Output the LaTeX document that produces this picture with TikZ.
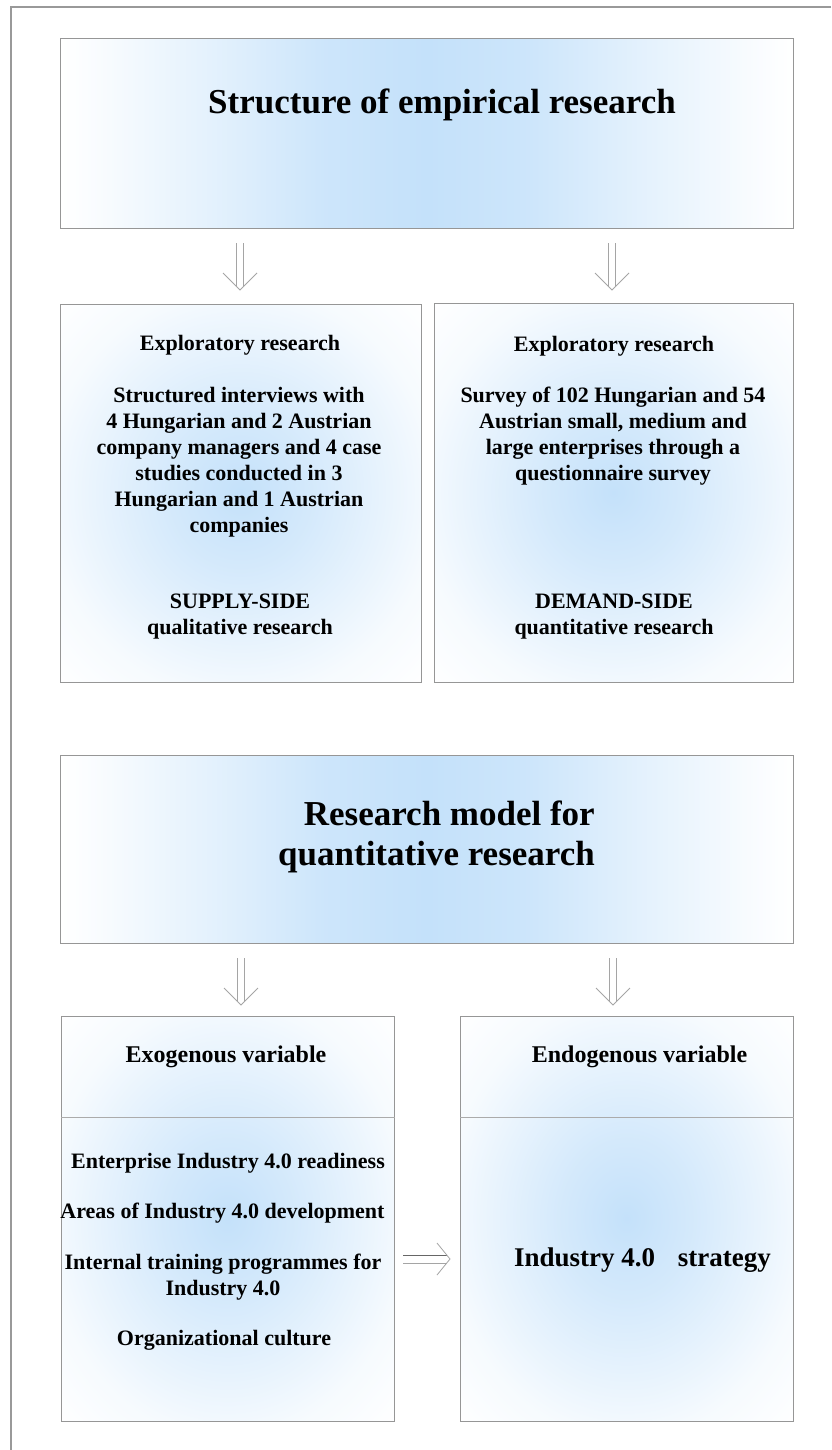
\documentclass[tikz,border=0pt]{standalone}
\usepackage{fontspec}
\setmainfont{Liberation Serif}

\definecolor{glow}{RGB}{196,225,250}
\definecolor{edge}{RGB}{150,150,150}
\definecolor{arrowgray}{RGB}{165,165,165}

% blue band down the middle of the wide title panels
% (a shaded path covers the 25bp--75bp part of the shading)
\pgfdeclarehorizontalshading{bandglow}{100bp}{%
  color(0bp)=(white); color(25bp)=(white); color(28bp)=(glow!12!white);
  color(35bp)=(glow!45!white); color(43bp)=(glow!85!white); color(50bp)=(glow);
  color(57bp)=(glow!85!white); color(65bp)=(glow!45!white);
  color(72bp)=(glow!12!white); color(75bp)=(white); color(100bp)=(white)}
% soft blue spot in the middle of the smaller panels
\pgfdeclareradialshading{spotglow}{\pgfpoint{0bp}{0bp}}{%
  color(0bp)=(glow); color(10bp)=(glow!72!white); color(19bp)=(glow!42!white);
  color(27bp)=(glow!15!white); color(36bp)=(white); color(50bp)=(white)}

% double-lined open arrows
\newcommand\downdbl[2]{%
  \draw[flow] ([xshift=-3.5pt]#1) -- ([xshift=-3.5pt,yshift=4pt]#2);
  \draw[flow] ([xshift=3.5pt]#1) -- ([xshift=3.5pt,yshift=4pt]#2);
  \draw[flow] ([xshift=-17pt,yshift=17pt]#2) -- (#2) -- ([xshift=17pt,yshift=17pt]#2);}
\newcommand\rightdbl[2]{%
  \draw[flow,draw=black!60] ([yshift=4pt]#1) -- ([yshift=4pt,xshift=-3pt]#2);
  \draw[flow] ([yshift=-4pt]#1) -- ([yshift=-4pt,xshift=-3pt]#2);
  \draw[flow] ([xshift=-13pt,yshift=16pt]#2) -- (#2) -- ([xshift=-13pt,yshift=-16pt]#2);}

\begin{document}
\begin{tikzpicture}[x=1pt,y=-1pt,
  panel/.style={draw=edge, line width=1pt, inner sep=0pt},
  wide/.style={panel, shading=bandglow, minimum width=733pt, minimum height=189pt},
  tall/.style={panel, shading=spotglow},
  divider/.style={draw=edge!80, line width=0.8pt},
  flow/.style={draw=arrowgray, line width=0.8pt},
  frameline/.style={draw=black!40, line width=1.3pt},
  bigtitle/.style={font=\bfseries\fontsize{35pt}{40pt}\selectfont, inner sep=0pt},
  body/.style={font=\bfseries\fontsize{22pt}{26pt}\selectfont, align=center, inner sep=0pt},
  head/.style={font=\bfseries\fontsize{24pt}{28pt}\selectfont, inner sep=0pt}]

\useasboundingbox (0,0) rectangle (831,1450);
\fill[white] (0,0) rectangle (831,1450);

% page frame (top and left edges)
\coordinate (frameTL) at (11,7);
\coordinate (frameTR) at (831,7);
\coordinate (frameBL) at (11,1450);
\draw[frameline] (frameTR) -- (frameTL) -- (frameBL);

% ---- structure of the empirical research ----
\node[wide] (structure) at (426.5,133.5) {};
\node[bigtitle] (structureT) at (442,105) {Structure of empirical research};

\node[tall, minimum width=361pt, minimum height=378pt] (supply) at (240.5,493) {};
\node[body] (supplyH) at (240,345) {Exploratory research};
\node[body] (supplyB) at (239,462) {Structured interviews with\\
  4 Hungarian and 2 Austrian\\ company managers and 4 case\\
  studies conducted in 3\\ Hungarian and 1 Austrian\\ companies};
\node[body] (supplyF) at (240,616.5) {SUPPLY-SIDE\\ qualitative research};

\node[tall, minimum width=359pt, minimum height=379pt] (demand) at (613.5,492.5) {};
\node[body] (demandH) at (614,346) {Exploratory research};
\node[body] (demandB) at (613,436) {Survey of 102 Hungarian and 54\\
  Austrian small, medium and\\ large enterprises through a\\ questionnaire survey};
\node[body] (demandF) at (614,617) {DEMAND-SIDE\\ quantitative research};

\coordinate (a1s) at (240,243); \coordinate (a1e) at (240,290);
\coordinate (a2s) at (612,243); \coordinate (a2e) at (612,290);
\downdbl{a1s}{a1e}
\downdbl{a2s}{a2e}

% ---- research model ----
\node[wide, minimum height=188pt] (model) at (426.5,849) {};
\node[bigtitle, align=right, anchor=east] (modelT) at (595,837)
  {Research model for\\ quantitative research};

\node[tall, minimum width=333pt, minimum height=405pt] (exo) at (227.5,1218.5) {};
\node[tall, minimum width=333pt, minimum height=405pt] (endo) at (626.5,1218.5) {};

\coordinate (exoCut) at (61,1117);
\coordinate (endoCut) at (460,1117);
\draw[divider] (exoCut) -- (exoCut -| exo.east);
\draw[divider] (endoCut) -- (endoCut -| endo.east);

\node[head] (exoH) at (226,1057) {Exogenous variable};
\node[body] (exo1) at (228,1163) {Enterprise Industry 4.0 readiness};
\node[body] (exo2) at (222.5,1213) {Areas of Industry 4.0 development};
\node[body] (exo3) at (223,1277.5) {Internal training programmes for\\ Industry 4.0};
\node[body] (exo4) at (224,1340) {Organizational culture};

\node[head] (endoH) at (639.5,1057) {Endogenous variable};
\node[font=\bfseries\fontsize{27pt}{32pt}\selectfont, inner sep=0pt] (endo1)
  at (642.5,1260) {Industry 4.0\hspace{16pt} strategy};

\coordinate (b1s) at (241,958); \coordinate (b1e) at (241,1005);
\coordinate (b2s) at (613,958); \coordinate (b2e) at (613,1005);
\downdbl{b1s}{b1e}
\downdbl{b2s}{b2e}

\coordinate (cs) at (403,1259); \coordinate (ce) at (450,1259);
\rightdbl{cs}{ce}

\end{tikzpicture}
\end{document}
